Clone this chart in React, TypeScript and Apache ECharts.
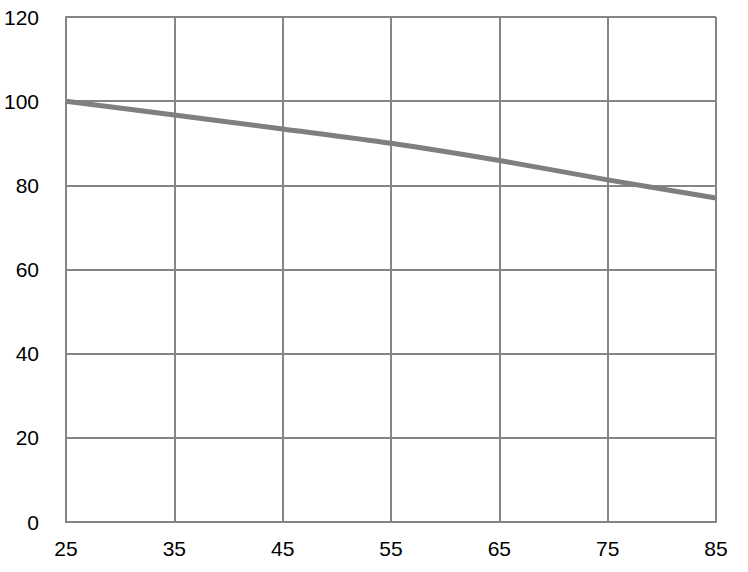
import React, { useEffect, useRef } from "react";
import * as echarts from "echarts";

const xValues = [25, 35, 45, 55, 65, 75, 85];
const yValues = [100, 96.7, 93.4, 90.0, 85.9, 81.3, 77.0];

export default function App() {
  const ref = useRef<HTMLDivElement>(null);
  useEffect(() => {
    const chart = echarts.init(ref.current!, null, { renderer: "svg" });
    const gridColor = "#858585";
    chart.setOption({
      animation: false,
      backgroundColor: "#ffffff",
      grid: { left: 66, right: 32, top: 17, bottom: 50 },
      xAxis: {
        type: "value",
        min: 25,
        max: 85,
        interval: 10,
        axisLine: { show: true, lineStyle: { color: gridColor, width: 2 } },
        axisTick: { show: false },
        splitLine: { show: true, lineStyle: { color: gridColor, width: 2 } },
        axisLabel: {
          color: "#000",
          fontFamily: "Liberation Sans, Arial, sans-serif",
          fontSize: 21,
          margin: 16,
        },
      },
      yAxis: {
        type: "value",
        min: 0,
        max: 120,
        interval: 20,
        axisLine: { show: true, lineStyle: { color: gridColor, width: 2 } },
        axisTick: { show: false },
        splitLine: { show: true, lineStyle: { color: gridColor, width: 2 } },
        axisLabel: {
          color: "#000",
          fontFamily: "Liberation Sans, Arial, sans-serif",
          fontSize: 21,
          margin: 27,
        },
      },
      series: [
        {
          type: "line",
          data: xValues.map((x, i) => [x, yValues[i]]),
          smooth: 0.3,
          showSymbol: false,
          lineStyle: { color: "#7f7f7f", width: 5 },
        },
      ],
    });
    return () => chart.dispose();
  }, []);
  return (
    <div
      ref={ref}
      style={{ position: "fixed", left: 0, top: 0, width: 748, height: 572 }}
    />
  );
}
